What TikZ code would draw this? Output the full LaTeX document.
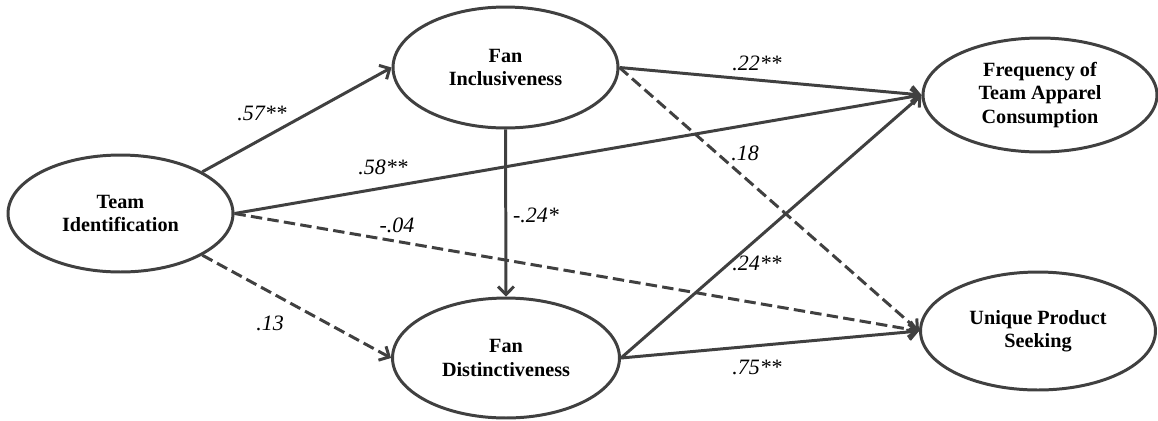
\documentclass[tikz,border=0pt]{standalone}
\usepackage{fontspec}
\setmainfont{Liberation Serif}
\usetikzlibrary{shapes.geometric,arrows.meta}
\definecolor{pathgray}{HTML}{404040}
\tikzset{
  construct/.style={ellipse, draw=pathgray, line width=1.7pt, inner sep=0pt, align=center,
    font=\fontsize{11.5}{13.4}\selectfont\bfseries},
  effect/.style={draw=pathgray, line width=1.7pt, -{Straight Barb[length=4.5pt,width=9pt]}},
  nseffect/.style={effect, dash pattern=on 6.5pt off 3pt},
  coef/.style={font=\fontsize{12.5}{14}\selectfont\itshape}
}
\begin{document}
\begin{tikzpicture}[x=0.02cm,y=-0.02cm]
\useasboundingbox (0,0) rectangle (1158,420);
% draw constructs
\node[construct, minimum width=4.5cm, minimum height=2.34cm] (ti) at (120.5,213.5) {Team\\Identification};
\node[construct, minimum width=4.5cm, minimum height=2.42cm] (fi) at (505.5,67.5) {Fan\\Inclusiveness};
\node[construct, minimum width=4.54cm, minimum height=2.4cm] (fd) at (506,358) {Fan\\Distinctiveness};
\node[construct, minimum width=4.68cm, minimum height=2.28cm] (freq) at (1040,95) {Frequency of\\Team Apparel\\Consumption};
\node[construct, minimum width=4.7cm, minimum height=2.36cm] (ups) at (1038,331) {Unique Product\\Seeking};
% draw paths
\draw[effect] (ti.27) -- (fi.west);
\draw[effect] (ti.east) -- (freq.west);
\draw[nseffect] (ti.east) -- (ups.west);
\draw[nseffect] (ti.-27) -- (fd.west);
\draw[effect] (fi.south) -- (fd.north);
\draw[effect] (fi.east) -- (freq.west);
\draw[nseffect] (fi.east) -- (ups.west);
\draw[effect] (fd.east) -- (freq.west);
\draw[effect] (fd.east) -- (ups.west);
% draw coefficients
\node[coef] (c1) at (262,113) {.57**};
\node[coef] (c2) at (383,167) {.58**};
\node[coef] (c3) at (397,225) {-.04};
\node[coef] (c4) at (270,323) {.13};
\node[coef] (c5) at (536,215) {-.24*};
\node[coef] (c6) at (757,63) {.22**};
\node[coef] (c7) at (745,153) {.18};
\node[coef] (c8) at (757,263) {.24**};
\node[coef] (c9) at (757,367) {.75**};
\end{tikzpicture}
\end{document}
